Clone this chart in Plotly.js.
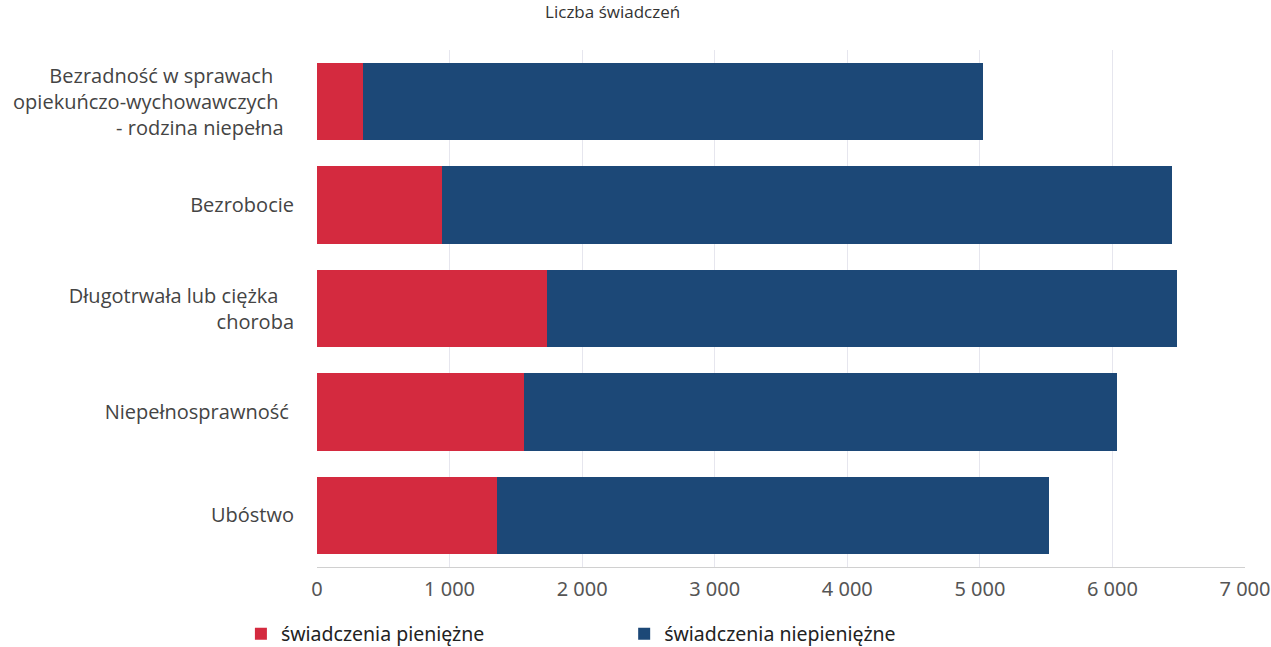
<!DOCTYPE html>
<html>
<head>
<meta charset="utf-8">
<script src="https://cdn.plot.ly/plotly-3.0.1.min.js"></script>
<style>html,body{margin:0;padding:0;background:#fff;}#chart{width:1271px;height:647px;}</style>
</head>
<body>
<div id="chart"></div>
<script>
var S = "\u00A0";
var categories = [
  "Bezradność w sprawach" + S + S + S + S + "<br>opiekuńczo-wychowawczych" + S + S + S + "<br>- rodzina niepełna" + S + S,
  "Bezrobocie",
  "Długotrwała lub ciężka" + S + S + S + "<br>choroba",
  "Niepełnosprawność" + S,
  "Ubóstwo"
];
var seriesNames = ["świadczenia pieniężne", "świadczenia niepieniężne"];
var pieniezne = [350, 945, 1735, 1565, 1360];
var niepieniezne = [4670, 5505, 4755, 4470, 4165];
var tickVals = [0, 1000, 2000, 3000, 4000, 5000, 6000, 7000];
var tickText = ["0", "1 000", "2 000", "3 000", "4 000", "5 000", "6 000", "7 000"];
var titleText = "Liczba świadczeń";

var traces = [
  {type: "bar", orientation: "h", name: seriesNames[0], y: categories, x: pieniezne,
   marker: {color: "#d42a3f", line: {width: 0}}, hoverinfo: "x+name", legend: "legend"},
  {type: "bar", orientation: "h", name: seriesNames[1], y: categories, x: niepieniezne,
   marker: {color: "#1c4877", line: {width: 0}}, hoverinfo: "x+name", legend: "legend2"}
];

var legendFont = {family: "Noto Sans", size: 19.5, color: "#222"};

var layout = {
  width: 1271, height: 647,
  paper_bgcolor: "#fff", plot_bgcolor: "#fff",
  barmode: "stack", bargap: 0.25,
  margin: {l: 317, r: 26, t: 50, b: 80},
  title: {text: titleText, x: 0.482, xanchor: "center", y: 0.99, yref: "container", yanchor: "top",
          pad: {t: 0, b: 0}, font: {family: "Open Sans", size: 17, color: "#333"}},
  xaxis: {range: [0, 7000], tickvals: tickVals, ticktext: tickText, showgrid: true,
          gridcolor: "#e6e6ee", gridwidth: 1, zeroline: false, showline: true, linecolor: "#d0d0d0", linewidth: 1,
          ticks: "", ticklen: 0, ticklabelstandoff: 4,
          tickfont: {family: "Noto Sans", size: 20, color: "#555"}, fixedrange: true},
  yaxis: {autorange: "reversed", showgrid: false, zeroline: false, showline: false, ticks: "",
          ticklabelstandoff: 22,
          tickfont: {family: "Open Sans", size: 20, color: "#444"}, fixedrange: true},
  showlegend: true,
  legend: {orientation: "h", x: -0.082, xanchor: "left", xref: "paper",
           y: 0.02, yref: "container", yanchor: "middle", font: legendFont, bgcolor: "rgba(0,0,0,0)"},
  legend2: {orientation: "h", x: 0.331, xanchor: "left", xref: "paper",
           y: 0.02, yref: "container", yanchor: "middle", font: legendFont, bgcolor: "rgba(0,0,0,0)"}
};

Plotly.newPlot("chart", traces, layout, {displayModeBar: false, staticPlot: true});
</script>
</body>
</html>
